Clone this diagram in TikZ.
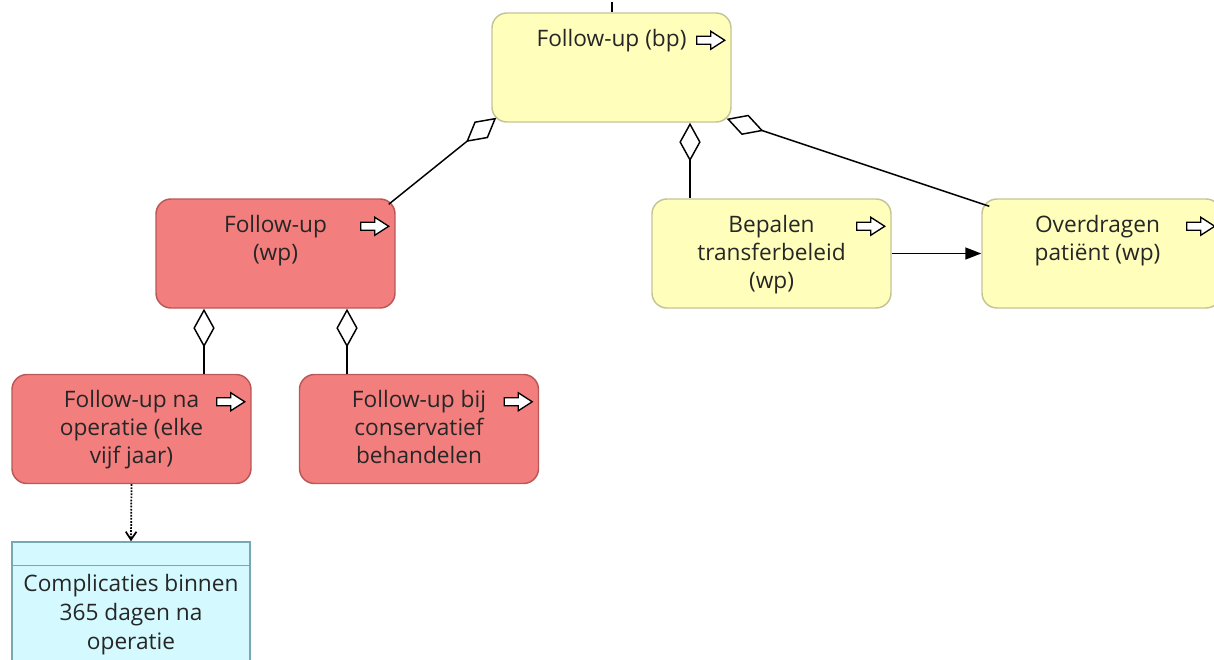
\documentclass[tikz,border=0pt]{standalone}
\usepackage{fontspec}
\setmainfont{Open Sans}
\usetikzlibrary{arrows.meta,calc}

\definecolor{bpyellow}{RGB}{255,255,187}
\definecolor{bpborder}{RGB}{196,196,150}
\definecolor{wpred}{RGB}{242,126,126}
\definecolor{wpborder}{RGB}{186,88,88}
\definecolor{kicyan}{RGB}{212,250,255}
\definecolor{kiborder}{RGB}{120,168,178}

\tikzset{every picture/.style={line width=1.1pt}}
\tikzset{
  proc/.style={draw, rounded corners=11.25pt, minimum width=179.25pt, minimum height=81.75pt, inner sep=0pt},
  bpbox/.style={proc, fill=bpyellow, draw=bpborder},
  wpbox/.style={proc, fill=wpred, draw=wpborder},
  kibox/.style={draw=kiborder, fill=kicyan, minimum width=178.5pt, minimum height=97.5pt, inner sep=0pt},
  boxtext/.style={anchor=north, align=center, inner sep=0pt, text=black!85, font=\fontsize{17}{21}\selectfont},
  aggr/.style={draw, {Diamond[open, fill=white, length=29pt, width=16pt]}-},
  flow/.style={draw, -{Triangle[length=12pt, width=9pt]}},
  infl/.style={draw, densely dotted, line width=1.3pt, -{Straight Barb[length=6pt, width=8pt]}},
  procarrow/.pic={\draw[line width=1pt, fill=white] (-14,-4) -- (0,-4) -- (0,-9) -- (14,0) -- (0,9) -- (0,4) -- (-14,4) -- cycle;}
}

\begin{document}
\begin{tikzpicture}[x=0.75pt,y=0.75pt,yscale=-1,xscale=1]
\useasboundingbox (0,0) rectangle (1214,660);
\clip (0,0) rectangle (1214,660);

% boxes
\node[bpbox] (bp) at (611.5,67.5) {};
\node[wpbox] (wp) at (275.5,253.5) {};
\node[bpbox] (bep) at (771.5,253.5) {};
\node[bpbox] (ovd) at (1101.5,253.5) {};
\node[wpbox] (na) at (131.5,429) {};
\node[wpbox] (bij) at (419,429) {};
\node[kibox] (ki) at (131,607) {};
\draw[kiborder] (ki.north west) ++(0,24) coordinate (kihead) -- (kihead -| ki.east);

% texts
\node[boxtext] (bptxt) at ($(bp.north)+(0,16)$) {Follow-up (bp)};
\node[boxtext] (wptxt) at ($(wp.north)+(0,16)$) {Follow-up\\(wp)};
\node[boxtext] (beptxt) at ($(bep.north)+(0,16)$) {Bepalen\\transferbeleid\\(wp)};
\node[boxtext] (ovdtxt) at ($(ovd.north)+(-4,16)$) {Overdragen\\patiënt (wp)};
\node[boxtext] (natxt) at ($(na.north)+(0,16)$) {Follow-up na\\operatie (elke\\vijf jaar)};
\node[boxtext] (bijtxt) at ($(bij.north)+(0,16)$) {Follow-up bij\\conservatief\\behandelen};
\node[boxtext, font=\fontsize{17}{22}\selectfont] (kitxt) at ($(ki.north)+(0,32)$) {Complicaties binnen\\365 dagen na\\operatie};

% process icons
\pic at ($(bp.north east)+(-21,28)$) {procarrow};
\pic at ($(wp.north east)+(-21,28)$) {procarrow};
\pic at ($(bep.north east)+(-21,28)$) {procarrow};
\pic at ($(ovd.north east)+(-21,28)$) {procarrow};
\pic at ($(na.north east)+(-21,28)$) {procarrow};
\pic at ($(bij.north east)+(-21,28)$) {procarrow};

% connectors
\coordinate (top) at (612,2);
\draw (top) -- (top |- bp.north);
\draw[aggr] ($(bp.south west)+(5,-5)$) -- ($(wp.north east)+(-7,6)$);
\draw[aggr] ($(bp.south)+(78.5,0)$) -- ($(bep.north)+(-81.5,0)$);
\draw[aggr] ($(bp.south east)+(-5,-4)$) -- ($(ovd.north west)+(8,8)$);
\draw[aggr] ($(wp.south)+(-71.5,0)$) -- ($(na.north)+(72.5,0)$);
\draw[aggr] ($(wp.south)+(71.5,0)$) -- ($(bij.north)+(-72,0)$);
\draw[flow] (bep.east) -- (ovd.west);
\draw[infl] (na.south) -- (ki.north);

\end{tikzpicture}
\end{document}
